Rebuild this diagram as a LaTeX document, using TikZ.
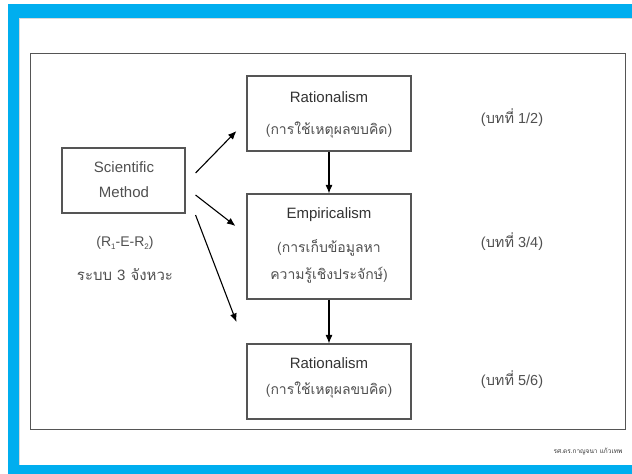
\documentclass[tikz,border=0pt]{standalone}
\usepackage{fontspec}
\setmainfont{Liberation Sans}
\newfontfamily\thai[Script=Thai]{Loma}
\usetikzlibrary{arrows.meta}
\definecolor{frameblue}{HTML}{00AEEF}
\definecolor{ink}{HTML}{333333}
\definecolor{thaiink}{HTML}{505050}
\definecolor{boxline}{HTML}{555555}
\begin{document}
\begin{tikzpicture}[x=1pt,y=-1pt,
  box/.style={draw=boxline,line width=1.1pt,rectangle,inner sep=0pt},
  lat/.style={text=ink,font=\fontsize{15}{17}\selectfont,inner sep=0pt,anchor=center},
  th/.style={text=thaiink,font=\fontsize{14}{16}\selectfont\thai,inner sep=0pt,anchor=center},
  arr/.style={draw=black,line width=1.1pt,-{Latex[length=8.5pt,width=7pt]}}]
% page and blue border
\useasboundingbox (0,0) rectangle (632,474);
\fill[white] (0,0) rectangle (632,474);
\fill[frameblue] (8,4) rectangle (632,474);
\fill[white] (19,18) rectangle (632,465);
\draw[black!15,line width=0.8pt] (19.4,465) -- (19.4,18.4) -- (632,18.4);
% outer frame
\draw[boxline,line width=1pt] (30,53) rectangle (625,429);
% boxes
\node[box,minimum width=123pt,minimum height=65pt] (sci) at (123.5,180.5) {};
\node[box,minimum width=164pt,minimum height=75pt] (r1) at (329,113.5) {};
\node[box,minimum width=164pt,minimum height=105pt] (emp) at (329,246.5) {};
\node[box,minimum width=164pt,minimum height=75pt] (r2) at (329,381.5) {};
% box texts
\node[lat,text=thaiink] (sciA) at (124,167) {Scientific};
\node[lat,text=thaiink] (sciB) at (124,192) {Method};
\node[lat] (r1A) at (329,97) {Rationalism};
\node[th] (r1B) at (329,130) {(การใช้เหตุผลขบคิด)};
\node[lat] (empA) at (329,215) {Empiricalism};
\node[th] (empB) at (329,248) {(การเก็บข้อมูลหา};
\node[th] (empC) at (329,275) {ความรู้เชิงประจักษ์)};
\node[lat] (r2A) at (329,363) {Rationalism};
\node[th] (r2B) at (329,390) {(การใช้เหตุผลขบคิด)};
% left notes
\node[lat,text=thaiink,font=\fontsize{14}{16}\selectfont] (rer) at (125,243)
  {(R\raisebox{-0.35ex}{\fontsize{8}{8}\selectfont 1}-E-R\raisebox{-0.35ex}{\fontsize{8}{8}\selectfont 2})};
\node[th,font=\fontsize{15}{17}\selectfont\thai] (step3) at (125,275) {ระบบ {\rmfamily 3} จังหวะ};
% chapter notes
\node[lat,text=thaiink,font=\fontsize{14.5}{16}\selectfont] (ch1) at (512,118) {({\thai บทที่} 1/2)};
\node[lat,text=thaiink,font=\fontsize{14.5}{16}\selectfont] (ch2) at (512,242) {({\thai บทที่} 3/4)};
\node[lat,text=thaiink,font=\fontsize{14.5}{16}\selectfont] (ch3) at (512,380) {({\thai บทที่} 5/6)};
% footer
\node[th,font=\fontsize{6.5}{7}\selectfont\thai,text=ink] (auth) at (588,452) {รศ.ดร.กาญจนา แก้วเทพ};
% connectors
\draw[arr] ([shift={(10,-7.5)}]sci.east) -- ([shift={(-10,17.5)}]r1.west);
\draw[arr] ([shift={(10,14.5)}]sci.east) -- ([shift={(-11,-20.5)}]emp.west);
\draw[arr] ([shift={(10,34.5)}]sci.east) -- ([shift={(-10,-59.5)}]r2.west);
\draw[arr] (r1.south) -- (emp.north);
\draw[arr] (emp.south) -- (r2.north);
\end{tikzpicture}
\end{document}
